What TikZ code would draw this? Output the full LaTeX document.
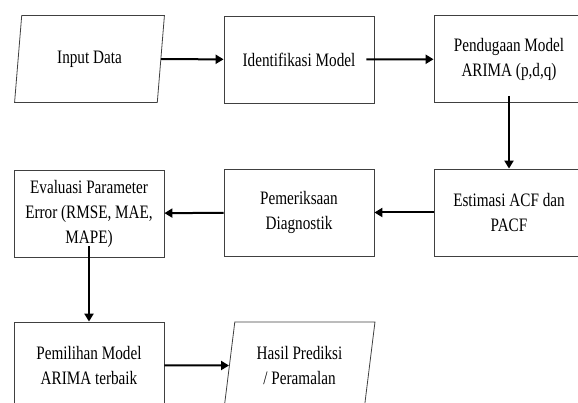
\documentclass[tikz,border=0pt]{standalone}
\usepackage{fontspec}
\setmainfont{Liberation Serif}[FakeStretch=0.8]
\usetikzlibrary{shapes.geometric,arrows.meta}

\begin{document}
\begin{tikzpicture}[x=1pt, y=1pt]
\useasboundingbox (0,0) rectangle (578,403);
\tikzstyle{every node}=[draw=black!75, line width=0.8pt, align=center,
  font=\fontsize{19}{25}\selectfont, minimum width=150pt, minimum height=87pt,
  inner sep=2pt];
\tikzstyle{iobox}=[trapezium, trapezium left angle=80, trapezium right angle=100,
  trapezium stretches=true, minimum width=151pt];
\tikzstyle{flow}=[line width=2pt, -{Triangle[length=8pt,width=9pt]}];
% top row
\node [iobox] (input) at (89.5,344) {Input Data};
\node (ident) at (299,343.5) {Identifikasi Model};
\node (pendug) at (509,344) {Pendugaan Model\\ARIMA (p,d,q)};
% middle row
\node (estim) at (509,190.5) {Estimasi ACF dan\\PACF};
\node (pemer) at (299,190.5) {Pemeriksaan\\Diagnostik};
\node (evalu) at (89,189.5) {Evaluasi Parameter\\Error (RMSE, MAE,\\MAPE)};
% bottom row
\node (pemil) at (89,37.5) {Pemilihan Model\\ARIMA terbaik};
\node [iobox] (hasil) at (299.5,37.5) {Hasil Prediksi\\/ Peramalan};
\draw [flow] (input) -- (ident);
\draw [flow] ([xshift=-8pt]ident.east) -- (pendug);
\draw [flow] ([yshift=7pt]pendug.south) -- (estim);
\draw [flow] (estim) -- (pemer);
\draw [flow] (pemer) -- (evalu);
\draw [flow] ([yshift=11pt]evalu.south) -- (pemil);
\draw [flow] (pemil) -- (hasil);
\end{tikzpicture}
\end{document}
